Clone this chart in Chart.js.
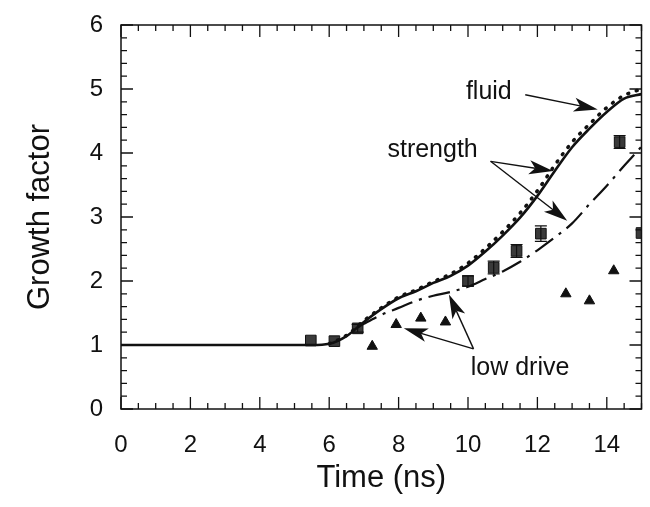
<html lang="en">

<head>
    <meta charset="UTF-8">
    <title>Growth factor</title>
    <style>
        body { margin: 0; background: #fff; }
    </style>
</head>

<body>
    <canvas id="growthChart" width="650" height="507"></canvas>

    <script src="https://cdn.jsdelivr.net/npm/chart.js@4.4.0/dist/chart.umd.min.js"></script>
    <script>
        // simulation curves
        const curveTime = [0, 1, 2, 3, 4, 5, 5.5, 6, 6.5, 7, 7.5, 8, 8.5, 9, 9.5, 10, 10.5, 11, 11.5, 12, 12.5, 13, 13.5, 14, 14.5, 15]
        const strength = [1, 1, 1, 1, 1, 1, 1, 1.02, 1.14, 1.36, 1.56, 1.73, 1.84, 1.97, 2.08, 2.24, 2.46, 2.71, 2.99, 3.33, 3.72, 4.09, 4.38, 4.64, 4.85, 4.92]
        const fluid = [null, null, null, null, null, null, null, 1.02, 1.15, 1.38, 1.58, 1.75, 1.86, 1.99, 2.11, 2.28, 2.51, 2.77, 3.06, 3.41, 3.81, 4.17, 4.45, 4.71, 4.90, 5.00]

        const lowDriveTime = [6.8, 7, 7.5, 8, 8.5, 9, 9.5, 10, 10.5, 11, 11.5, 12, 12.5, 13, 13.5, 14, 14.5, 15]
        const lowDrive = [1.27, 1.33, 1.47, 1.58, 1.69, 1.77, 1.83, 1.91, 2.03, 2.15, 2.30, 2.48, 2.68, 2.90, 3.20, 3.49, 3.80, 4.10]

        // measured points
        const squareTime = [5.47, 6.15, 6.82, 10.0, 10.74, 11.4, 12.1, 14.37, 15.0]
        const squareGrowth = [1.07, 1.06, 1.26, 2.0, 2.21, 2.47, 2.74, 4.17, 2.75]
        const squareErr = [0, 0, 0.06, 0.08, 0.1, 0.1, 0.12, 0.1, 0]

        const triangleTime = [7.24, 7.93, 8.64, 9.35, 12.82, 13.5, 14.2]
        const triangleGrowth = [0.98, 1.32, 1.42, 1.36, 1.80, 1.69, 2.16]

        const xTicks = [0, 2, 4, 6, 8, 10, 12, 14]
        const yTicks = [0, 1, 2, 3, 4, 5, 6]

        // labels with arrows, in data units
        const notes = [
            { text: 'fluid', x: 10.6, y: 4.95, arrows: [[11.65, 4.91, 13.74, 4.68]] },
            { text: 'strength', x: 8.98, y: 4.05, arrows: [[10.65, 3.87, 12.45, 3.72], [10.65, 3.87, 12.86, 2.94]] },
            { text: 'low drive', x: 11.5, y: 0.64, arrows: [[10.16, 0.94, 8.15, 1.26], [10.16, 0.94, 9.45, 1.79]] }
        ]

        const pairs = (xs, ys) => xs.map((x, i) => ({ x: x, y: ys[i] }))
        const FONT = '"Liberation Sans", Arial, Helvetica, sans-serif'

        function arrow(ctx, x1, y1, x2, y2) {
            const a = Math.atan2(y2 - y1, x2 - x1)
            const len = 24, half = 7
            const bx = x2 - len * Math.cos(a), by = y2 - len * Math.sin(a)
            ctx.beginPath()
            ctx.moveTo(x1, y1)
            ctx.lineTo(bx + 6 * Math.cos(a), by + 6 * Math.sin(a))
            ctx.stroke()
            ctx.beginPath()
            ctx.moveTo(x2, y2)
            ctx.lineTo(bx - half * Math.sin(a), by + half * Math.cos(a))
            ctx.lineTo(bx + 6 * Math.cos(a), by + 6 * Math.sin(a))
            ctx.lineTo(bx + half * Math.sin(a), by - half * Math.cos(a))
            ctx.closePath()
            ctx.fill()
        }

        const framePlugin = {
            id: 'frame',
            afterDatasetsDraw(chart) {
                // error bars on the squares
                const { ctx, scales: { x, y } } = chart
                ctx.save()
                ctx.strokeStyle = '#111'
                ctx.lineWidth = 1.2
                squareTime.forEach((t, i) => {
                    if (!squareErr[i]) return
                    const px = x.getPixelForValue(t)
                    const top = y.getPixelForValue(squareGrowth[i] + squareErr[i])
                    const bot = y.getPixelForValue(squareGrowth[i] - squareErr[i])
                    ctx.beginPath()
                    ctx.moveTo(px, top); ctx.lineTo(px, bot)
                    ctx.moveTo(px - 6, top); ctx.lineTo(px + 6, top)
                    ctx.moveTo(px - 6, bot); ctx.lineTo(px + 6, bot)
                    ctx.stroke()
                })
                ctx.restore()
            },
            afterDraw(chart) {
                const { ctx, chartArea: a, scales: { x, y } } = chart
                ctx.save()
                ctx.strokeStyle = '#111'
                ctx.fillStyle = '#111'
                ctx.lineWidth = 1.5
                ctx.strokeRect(a.left, a.top, a.right - a.left, a.bottom - a.top)

                // inward ticks on all four sides
                ctx.lineWidth = 1.3
                ctx.beginPath()
                for (let i = 0; i <= 30; i++) {
                    const px = x.getPixelForValue(i / 2)
                    const len = i % 4 === 0 ? 12 : 6
                    ctx.moveTo(px, a.bottom); ctx.lineTo(px, a.bottom - len)
                    ctx.moveTo(px, a.top); ctx.lineTo(px, a.top + len)
                }
                for (let i = 0; i <= 30; i++) {
                    const py = y.getPixelForValue(i / 5)
                    const len = i % 5 === 0 ? 12 : 6
                    ctx.moveTo(a.left, py); ctx.lineTo(a.left + len, py)
                    ctx.moveTo(a.right, py); ctx.lineTo(a.right - len, py)
                }
                ctx.stroke()

                // annotations
                ctx.font = '25px ' + FONT
                ctx.textAlign = 'center'
                ctx.textBaseline = 'middle'
                ctx.lineWidth = 1.4
                notes.forEach(n => {
                    ctx.fillText(n.text, x.getPixelForValue(n.x), y.getPixelForValue(n.y))
                    n.arrows.forEach(ar => {
                        arrow(ctx, x.getPixelForValue(ar[0]), y.getPixelForValue(ar[1]),
                            x.getPixelForValue(ar[2]), y.getPixelForValue(ar[3]))
                    })
                })
                ctx.restore()
            }
        }

        const ctx = document.getElementById('growthChart').getContext('2d')
        const growthChart = new Chart(ctx, {
            type: 'line',
            data: {
                datasets: [
                    {
                        label: 'fluid',
                        data: pairs(curveTime, fluid),
                        borderColor: '#111',
                        borderWidth: 3.5,
                        borderDash: [1, 8],
                        borderCapStyle: 'round',
                        pointRadius: 0,
                        cubicInterpolationMode: 'monotone'
                    },
                    {
                        label: 'strength',
                        data: pairs(curveTime, strength),
                        borderColor: '#111',
                        borderWidth: 2.6,
                        pointRadius: 0,
                        cubicInterpolationMode: 'monotone'
                    },
                    {
                        label: 'low drive',
                        data: pairs(lowDriveTime, lowDrive),
                        borderColor: '#111',
                        borderWidth: 2.2,
                        borderDash: [22, 7, 3, 7],
                        pointRadius: 0,
                        cubicInterpolationMode: 'monotone'
                    },
                    {
                        label: 'squares',
                        data: pairs(squareTime, squareGrowth),
                        showLine: false,
                        pointStyle: 'rect',
                        pointRadius: 7.5,
                        backgroundColor: '#3a3a3a',
                        borderColor: '#111',
                        borderWidth: 1
                    },
                    {
                        label: 'triangles',
                        data: pairs(triangleTime, triangleGrowth),
                        showLine: false,
                        pointStyle: 'triangle',
                        pointRadius: 6,
                        backgroundColor: '#111',
                        borderColor: '#111',
                        borderWidth: 1
                    }
                ]
            },
            options: {
                responsive: false,
                animation: false,
                devicePixelRatio: 1,
                layout: { padding: { top: 25, right: 2, left: 0, bottom: 0 } },
                plugins: {
                    legend: { display: false },
                    tooltip: { enabled: false }
                },
                scales: {
                    x: {
                        type: 'linear',
                        min: 0,
                        max: 15,
                        afterBuildTicks: scale => { scale.ticks = xTicks.map(v => ({ value: v })) },
                        afterFit: scale => { scale.height = 98 },
                        grid: { display: false },
                        border: { display: false },
                        ticks: { color: '#111', padding: 14, maxRotation: 0, font: { family: FONT, size: 24 } },
                        title: {
                            display: true,
                            text: 'Time (ns)',
                            color: '#111',
                            font: { family: FONT, size: 31 },
                            padding: { top: 0, bottom: 10 }
                        }
                    },
                    y: {
                        min: 0,
                        max: 6,
                        afterBuildTicks: scale => { scale.ticks = yTicks.map(v => ({ value: v })) },
                        afterFit: scale => { scale.width = 121 },
                        grid: { display: false },
                        border: { display: false },
                        ticks: { color: '#111', padding: 10, font: { family: FONT, size: 24 } },
                        title: {
                            display: true,
                            text: 'Growth factor',
                            color: '#111',
                            font: { family: FONT, size: 31 },
                            padding: { top: 22, bottom: 0 }
                        }
                    }
                }
            },
            plugins: [framePlugin]
        })
    </script>
</body>

</html>
